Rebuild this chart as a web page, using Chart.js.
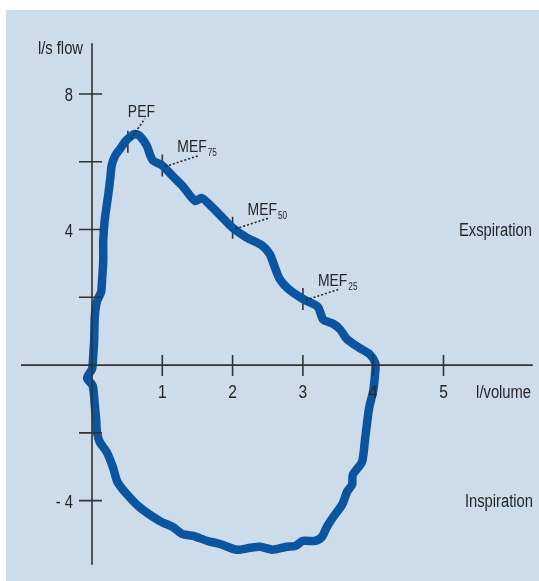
<!DOCTYPE html>
<html>
<head>
<meta charset="utf-8">
<script src="https://cdn.jsdelivr.net/npm/chart.js@4/dist/chart.umd.min.js"></script>
<style>
  html, body { margin: 0; padding: 0; background: #ffffff; }
  #wrap { width: 539px; height: 581px; }
</style>
</head>
<body>
<div id="wrap"><canvas id="c" width="539" height="581"></canvas></div>
<script>
// Flow-volume loop: volume (l) against flow (l/s)
// Expiration: from the origin up to the peak flow, then down to full volume
const expVolume = [0.01, 0.03, 0.04, 0.07, 0.13, 0.14, 0.16, 0.16, 0.18, 0.23, 0.26, 0.28, 0.33, 0.40, 0.47, 0.54, 0.61, 0.68, 0.78, 0.83, 0.87, 1.00, 1.15, 1.29, 1.39, 1.47, 1.56, 1.68, 1.82, 2.00, 2.20, 2.42, 2.53, 2.60, 2.67, 2.79, 3.00, 3.21, 3.29, 3.43, 3.53, 3.63, 3.81, 3.95, 4.03, 4.03];
const expFlow   = [0.03, 0.70, 1.43, 1.87, 2.16, 2.39, 3.09, 3.67, 4.26, 5.01, 5.51, 5.89, 6.18, 6.38, 6.59, 6.73, 6.82, 6.76, 6.47, 6.18, 6.03, 5.89, 5.57, 5.28, 5.01, 4.84, 4.93, 4.72, 4.43, 4.05, 3.76, 3.53, 3.27, 2.89, 2.54, 2.25, 1.95, 1.72, 1.34, 1.22, 1.05, 0.76, 0.50, 0.32, 0.06, -0.17];
// Inspiration: from full volume back to the origin
const inspVolume = [4.00, 3.94, 3.88, 3.84, 3.71, 3.70, 3.63, 3.56, 3.43, 3.34, 3.27, 3.17, 3.00, 2.89, 2.77, 2.57, 2.39, 2.25, 2.06, 1.82, 1.64, 1.44, 1.29, 1.15, 0.97, 0.68, 0.50, 0.36, 0.30, 0.21, 0.11, 0.07, 0.06, 0.04, 0.01, -0.07, 0.00, 0.01];
const inspFlow   = [-0.76, -1.28, -2.27, -2.86, -3.24, -3.53, -3.73, -4.11, -4.49, -4.78, -5.07, -5.19, -5.19, -5.34, -5.36, -5.45, -5.36, -5.39, -5.45, -5.28, -5.19, -5.04, -4.99, -4.78, -4.61, -4.20, -3.82, -3.44, -3.03, -2.57, -2.27, -1.98, -1.63, -1.20, -0.61, -0.38, -0.12, 0.03];

// Marked points on the expiratory limb
const markerNames  = ['PEF', 'MEF', 'MEF', 'MEF'];
const markerSubs   = ['', '75', '50', '25'];
const markerVolume = [0.51, 1.00, 2.00, 3.00];
const markerFlow   = [6.59, 5.89, 4.05, 1.95];

// Axis ticks
const xTicks = [1, 2, 3, 4, 5];
const xTickLabels = ['1', '2', '3', '4', '5'];
const yTicks = [8, 6, 4, 2, -2, -4];
const yTickLabels = ['8', '', '4', '', '', '- 4'];

const FONT = '"Liberation Sans", Arial, sans-serif';
const SQUEEZE = 0.82;   // condensed lettering
const INK = '#262626';
const AXIS = '#333333';

const loopPoints = expVolume.map((v, i) => ({ x: v, y: expFlow[i] }))
  .concat(inspVolume.map((v, i) => ({ x: v, y: inspFlow[i] })));
const markerPoints = markerVolume.map((v, i) => ({ x: v, y: markerFlow[i] }));

// draw text horizontally condensed around its anchor (y is the baseline)
function narrowText(ctx, text, x, y, size, align) {
  ctx.save();
  ctx.font = size + 'px ' + FONT;
  ctx.textAlign = align;
  ctx.textBaseline = 'alphabetic';
  ctx.translate(x, y);
  ctx.scale(SQUEEZE, 1);
  ctx.fillText(text, 0, 0);
  const w = ctx.measureText(text).width * SQUEEZE;
  ctx.restore();
  return w;
}

const backdrop = {
  id: 'backdrop',
  beforeDraw(chart) {
    const ctx = chart.ctx;
    ctx.save();
    ctx.fillStyle = '#ffffff';
    ctx.fillRect(0, 0, chart.width, chart.height);
    ctx.fillStyle = '#cddcea';
    ctx.fillRect(6, 10, chart.width - 6, chart.height - 10);
    ctx.restore();
  }
};

const crossAxes = {
  id: 'crossAxes',
  afterDatasetsDraw(chart) {
    const ctx = chart.ctx;
    const xs = chart.scales.x, ys = chart.scales.y;
    const x0 = xs.getPixelForValue(0), y0 = ys.getPixelForValue(0);
    ctx.save();
    ctx.strokeStyle = AXIS;
    ctx.lineWidth = 1.6;
    // axis lines through the origin
    ctx.beginPath();
    ctx.moveTo(xs.getPixelForValue(-1.01), y0);
    ctx.lineTo(xs.getPixelForValue(6.27), y0);
    ctx.moveTo(x0, ys.getPixelForValue(9.5));
    ctx.lineTo(x0, ys.getPixelForValue(-5.89));
    ctx.stroke();
    // tick marks crossing the axes
    ctx.beginPath();
    xTicks.forEach(t => {
      const px = xs.getPixelForValue(t);
      ctx.moveTo(px, y0 - 10);
      ctx.lineTo(px, y0 + 11);
    });
    yTicks.forEach(t => {
      const py = ys.getPixelForValue(t);
      ctx.moveTo(x0 - 13, py);
      ctx.lineTo(x0 + 10, py);
    });
    ctx.stroke();

    ctx.fillStyle = INK;
    xTicks.forEach((t, i) => {
      narrowText(ctx, xTickLabels[i], xs.getPixelForValue(t), y0 + 33, 19, 'center');
    });
    yTicks.forEach((t, i) => {
      if (yTickLabels[i]) narrowText(ctx, yTickLabels[i], x0 - 19, ys.getPixelForValue(t) + 7, 18, 'right');
    });

    // axis titles and phase labels
    narrowText(ctx, 'l/s flow', x0 - 9, 54, 18, 'right');
    narrowText(ctx, 'l/volume', xs.getPixelForValue(6.26) - 1, y0 + 33, 18, 'right');
    narrowText(ctx, 'Exspiration', chart.width - 7, ys.getPixelForValue(4) + 6.5, 18, 'right');
    narrowText(ctx, 'Inspiration', chart.width - 6, ys.getPixelForValue(-4) + 6.5, 18, 'right');

    // marker captions with dotted leaders
    markerPoints.forEach((p, i) => {
      const px = xs.getPixelForValue(p.x), py = ys.getPixelForValue(p.y);
      ctx.save();
      ctx.setLineDash([2, 2]);
      ctx.lineWidth = 1.6;
      ctx.strokeStyle = INK;
      ctx.beginPath();
      if (i === 0) {
        ctx.moveTo(px + 3, py - 3);
        ctx.lineTo(px + 17, py - 23);
      } else {
        ctx.moveTo(px + 3, py + 1);
        ctx.lineTo(px + 37, py - 10);
      }
      ctx.stroke();
      ctx.restore();

      const tx = i === 0 ? px : px + 15;
      const ty = i === 0 ? py - 25 : py - 13;
      const w = narrowText(ctx, markerNames[i], tx, ty, 17, 'left');
      if (markerSubs[i]) {
        narrowText(ctx, markerSubs[i], tx + w + 1, ty + 4, 10, 'left');
      }
    });
    ctx.restore();
  }
};

new Chart(document.getElementById('c'), {
  type: 'scatter',
  data: {
    datasets: [
      {
        label: 'loop',
        data: loopPoints,
        showLine: true,
        borderColor: '#0b55a0',
        borderWidth: 8.5,
        borderJoinStyle: 'round',
        borderCapStyle: 'round',
        pointRadius: 0,
        tension: 0.25,
        fill: false
      },
      {
        label: 'markers',
        data: markerPoints,
        showLine: false,
        pointStyle: 'line',
        rotation: 90,
        pointRadius: 11,
        borderWidth: 1.6,
        borderColor: AXIS,
        backgroundColor: AXIS
      }
    ]
  },
  options: {
    responsive: false,
    animation: false,
    devicePixelRatio: 1,
    layout: { padding: { left: 21.7, right: 25.2, top: 43.15, bottom: 6.2 } },
    plugins: { legend: { display: false }, tooltip: { enabled: false } },
    scales: {
      x: { type: 'linear', min: -1, max: 6, display: false },
      y: { type: 'linear', min: -6, max: 9.5, display: false }
    }
  },
  plugins: [backdrop, crossAxes]
});
</script>
</body>
</html>
